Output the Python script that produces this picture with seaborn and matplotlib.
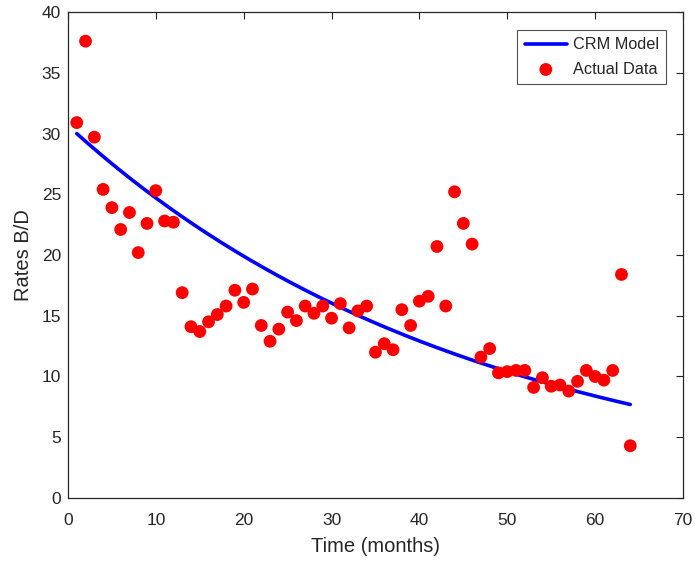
import numpy as np
import pandas as pd
import matplotlib
matplotlib.use("Agg")
import matplotlib.pyplot as plt
import seaborn as sns

months = list(range(1, 65))
rates = [30.9, 37.6, 29.7, 25.4, 23.9, 22.1, 23.5, 20.2, 22.6, 25.3,
         22.8, 22.7, 16.9, 14.1, 13.7, 14.5, 15.1, 15.8, 17.1, 16.1,
         17.2, 14.2, 12.9, 13.9, 15.3, 14.6, 15.8, 15.2, 15.8, 14.8,
         16.0, 14.0, 15.4, 15.8, 12.0, 12.7, 12.2, 15.5, 14.2, 16.2,
         16.6, 20.7, 15.8, 25.2, 22.6, 20.9, 11.6, 12.3, 10.3, 10.4,
         10.5, 10.5, 9.1, 9.9, 9.2, 9.3, 8.8, 9.6, 10.5, 10.0,
         9.7, 10.5, 18.4, 4.3]

# CRM model (exponential decline) parameters
model_a = 30.65
model_b = 0.02159
model_t = np.linspace(1, 64, 200)
model_q = model_a * np.exp(-model_b * model_t)

data_df = pd.DataFrame({"Time": months, "Rate": rates})
model_df = pd.DataFrame({"Time": model_t, "Rate": model_q})

sns.set_theme(style="white")
plt.rcParams['font.family'] = ['Liberation Sans', 'DejaVu Sans']

fig = plt.figure(figsize=(6.95, 5.62), dpi=100)
ax = fig.add_axes([0.0978, 0.1139, 0.8849, 0.8647])

sns.lineplot(data=model_df, x="Time", y="Rate", ax=ax, color="#0000ff",
             linewidth=2.6, label="CRM Model")
sns.scatterplot(data=data_df, x="Time", y="Rate", ax=ax, color="#ff0000",
                s=85, edgecolor="none", label="Actual Data", zorder=3)

ax.set_xlim(0, 70)
ax.set_ylim(0, 40)
ax.set_xticks(range(0, 71, 10))
ax.set_yticks(range(0, 41, 5))
ax.set_xlabel("Time (months)", fontsize=14.5, color="#262626", labelpad=6)
ax.set_ylabel("Rates B/D", fontsize=14.5, color="#262626", labelpad=6)
ax.tick_params(direction="in", length=5, width=0.8, top=True, right=True,
               labelsize=12.5, colors="#262626")
ax.tick_params(axis="x", pad=11)
ax.tick_params(axis="y", pad=5)
for sp in ax.spines.values():
    sp.set_visible(True)
    sp.set_color("#262626")
    sp.set_linewidth(0.9)

leg = ax.legend(loc="upper right", bbox_to_anchor=(0.9725, 0.963), fontsize=11.7,
                frameon=True, fancybox=False, edgecolor="#262626",
                handlelength=2.6, borderpad=0.45, labelspacing=0.58,
                handletextpad=0.35, borderaxespad=0)
leg.get_frame().set_linewidth(0.8)

fig.savefig("out.png", dpi=100)
